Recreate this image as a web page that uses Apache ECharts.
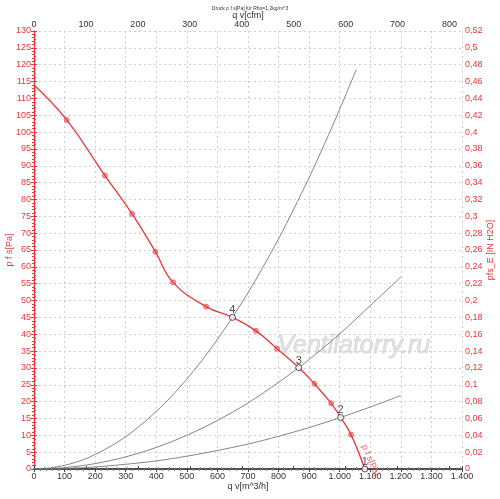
<!DOCTYPE html>
<html>
<head>
<meta charset="utf-8">
<script src="https://cdn.jsdelivr.net/npm/echarts@6/dist/echarts.min.js"></script>
<style>html,body{margin:0;padding:0;background:#fff}#c{width:500px;height:499px}</style>
</head>
<body>
<div id="c"></div>
<script>
// ---- data ----
const fanQ = [0, 107, 232, 321, 397, 455, 563, 649, 726, 795, 866, 917, 972, 1003, 1037, 1082];
const fanP = [114, 103.6, 87.1, 75.7, 64.5, 55.4, 48.2, 45.0, 41.0, 35.7, 30.1, 25.3, 19.5, 15.3, 10.2, 0];
const markerQ = [107, 232, 321, 397, 455, 563, 726, 795, 917, 972, 1037];
const markerP = [103.6, 87.1, 75.7, 64.5, 55.4, 48.2, 41.0, 35.7, 25.3, 19.5, 10.2];
const opLabels = ['4', '3', '2', '1'];
const opQ = [649, 866, 1003, 1082];
const opP = [45.0, 30.1, 15.3, 0];
const sysAQ = [0, 50, 100, 150, 200, 250, 300, 350, 400, 450, 500, 550, 600, 649, 700, 750, 800, 850, 900, 950, 1000, 1054];
const sysAP = [0, 0.3, 1.1, 2.4, 4.3, 6.7, 9.6, 13.1, 17.1, 21.6, 26.7, 32.3, 38.5, 45.0, 52.3, 60.1, 68.3, 77.2, 86.5, 96.4, 106.8, 118.5];
const sysBQ = [0, 100, 200, 300, 400, 500, 600, 700, 800, 866, 900, 1000, 1100, 1200];
const sysBP = [0, 0.4, 1.6, 3.6, 6.4, 10.0, 14.4, 19.6, 25.7, 30.1, 32.5, 40.1, 48.5, 57.0];
const sysCQ = [0, 100, 200, 300, 400, 500, 600, 700, 800, 900, 1003, 1100, 1200];
const sysCP = [0, 0.15, 0.6, 1.4, 2.4, 3.8, 5.5, 7.4, 9.7, 12.3, 15.3, 18.4, 21.8];
const curveLabelQ = 1062, curveLabelP = 4;
const titleText = 'Druck p f s[Pa] für Rho=1,2kg/m^3';
const M3H_PER_CFM = 1.699;

const zip = (a, b) => a.map((v, i) => [v, b[i]]);
const RED = '#e8363a';
const FONT = 'Liberation Sans';
const fmtQ = v => v >= 1000 ? Math.floor(v / 1000) + '.' + String(v % 1000).padStart(3, '0') : String(v);
const fmtIn = v => String(Number(v.toFixed(2))).replace('.', ',');
const grid = { show: true, lineStyle: { color: '#cfcfcf', type: [2, 3], width: 1 } };

const chart = echarts.init(document.getElementById('c'), null, { renderer: 'canvas' });
chart.setOption({
  animation: false,
  title: { text: titleText, left: 'center', top: 1, textStyle: { fontSize: 5, fontWeight: 'normal', color: '#333', fontFamily: FONT } },
  grid: { left: 34, right: 38, top: 31, bottom: 30, containLabel: false, outerBoundsMode: 'none' },
  xAxis: [
    { type: 'value', position: 'bottom', min: 0, max: 1400, interval: 100,
      name: 'q v[m^3/h]', nameLocation: 'middle', nameGap: 13, nameMoveOverlap: false,
      nameTextStyle: { fontSize: 9, color: '#333', fontFamily: FONT },
      axisLine: { show: true, lineStyle: { color: '#444', width: 1.5 } },
      axisTick: { show: true, length: 3, lineStyle: { color: '#444' } },
      minorTick: { show: true, splitNumber: 5, length: 2, lineStyle: { color: '#888' } },
      axisLabel: { fontSize: 9, color: '#333', fontFamily: FONT, margin: 3, formatter: fmtQ },
      splitLine: grid },
    { type: 'value', position: 'top', min: 0, max: 1400 / M3H_PER_CFM, interval: 100,
      name: 'q v[cfm]', nameLocation: 'middle', nameGap: 11, nameMoveOverlap: false,
      nameTextStyle: { fontSize: 9, color: '#333', fontFamily: FONT },
      axisLine: { show: true, lineStyle: { color: '#444', width: 1.5 } },
      axisTick: { show: true, length: 3, lineStyle: { color: '#444' } },
      minorTick: { show: true, splitNumber: 5, length: 2, lineStyle: { color: '#888' } },
      axisLabel: { fontSize: 9, color: '#333', fontFamily: FONT, margin: 2, showMaxLabel: false },
      splitLine: { show: false } }
  ],
  yAxis: [
    { type: 'value', position: 'left', min: 0, max: 130, interval: 5,
      name: 'p f s[Pa]', nameLocation: 'middle', nameGap: 20, nameMoveOverlap: false,
      nameTextStyle: { fontSize: 9, color: RED, fontFamily: FONT },
      axisLine: { show: true, lineStyle: { color: RED, width: 1.2 } },
      axisTick: { show: true, length: 3, lineStyle: { color: RED } },
      minorTick: { show: true, splitNumber: 5, length: 2, lineStyle: { color: RED } },
      axisLabel: { fontSize: 9, color: RED, fontFamily: FONT, margin: 3 },
      splitLine: grid },
    { type: 'value', position: 'right', min: 0, max: 0.52, interval: 0.02,
      name: 'pfs_E [IN H2O]', nameLocation: 'middle', nameGap: 24, nameMoveOverlap: false,
      nameTextStyle: { fontSize: 9, color: RED, fontFamily: FONT },
      axisLine: { show: true, lineStyle: { color: RED, width: 1.2 } },
      axisTick: { show: true, length: 3, lineStyle: { color: RED } },
      minorTick: { show: true, splitNumber: 4, length: 2, lineStyle: { color: RED } },
      axisLabel: { fontSize: 9, color: RED, fontFamily: FONT, margin: 3, formatter: fmtIn },
      splitLine: { show: false } }
  ],
  graphic: [
    { type: 'text', left: 277, top: 333, z: 1, silent: true,
      style: { text: 'Ventilatorry.ru', font: 'italic 25px "Liberation Sans"', fill: 'rgba(220,220,220,0.8)', stroke: 'rgba(185,185,185,0.85)', lineWidth: 0.6 } }
  ],
  series: [
    { type: 'line', data: zip(sysAQ, sysAP), smooth: 0.3, showSymbol: false, lineStyle: { color: '#777', width: 0.9 }, z: 3 },
    { type: 'line', data: zip(sysBQ, sysBP), smooth: 0.3, showSymbol: false, lineStyle: { color: '#777', width: 0.9 }, z: 3 },
    { type: 'line', data: zip(sysCQ, sysCP), smooth: 0.3, showSymbol: false, lineStyle: { color: '#777', width: 0.9 }, z: 3 },
    { type: 'line', data: zip(fanQ, fanP), smooth: 0.45, showSymbol: false, lineStyle: { color: RED, width: 1.3 }, z: 4 },
    { type: 'scatter', data: zip(markerQ, markerP), symbol: 'circle', symbolSize: 5,
      itemStyle: { color: 'rgba(232,54,58,0.55)', borderColor: RED, borderWidth: 0.8 }, z: 5 },
    { type: 'scatter', data: opQ.map((q, i) => ({ value: [q, opP[i]], name: opLabels[i] })),
      symbol: 'circle', symbolSize: 6,
      itemStyle: { color: '#fff', borderColor: '#222', borderWidth: 1 },
      label: { show: true, position: 'top', distance: -2, formatter: p => p.name, fontSize: 11, color: '#222', fontFamily: FONT },
      z: 6 },
    { type: 'scatter', data: [[curveLabelQ, curveLabelP]], symbolSize: 0, silent: true,
      label: { show: true, formatter: 'p f s[Pa]', rotate: -67, offset: [9, -9], fontSize: 9, color: RED, fontFamily: FONT },
      z: 6 }
  ]
});
</script>
</body>
</html>
